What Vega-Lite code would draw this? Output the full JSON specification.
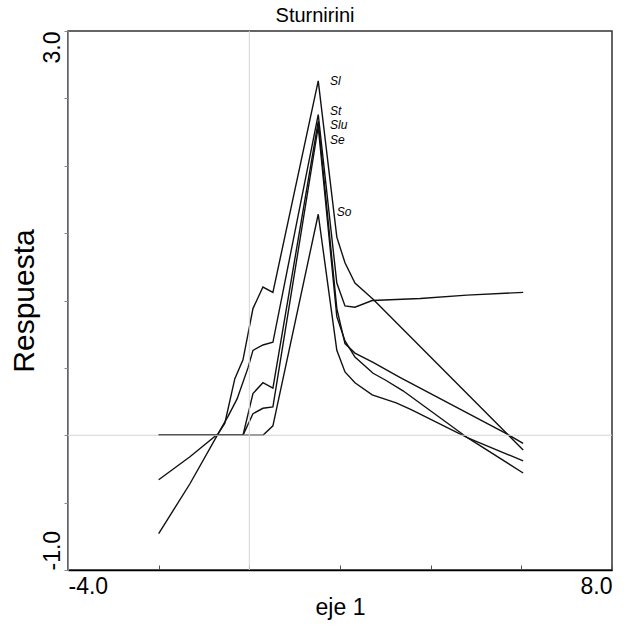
{
  "$schema": "https://vega.github.io/schema/vega-lite/v6.json",
  "width": 544,
  "height": 539,
  "autosize": {"type": "none"},
  "padding": {"left": 68, "top": 31, "right": 16, "bottom": 59},
  "background": "white",
  "title": {"text": "Sturnirini", "fontSize": 20, "font": "Liberation Sans", "fontWeight": "normal", "color": "#000000", "anchor": "middle", "frame": "group", "dx": -25, "offset": 5},
  "config": {"view": {"stroke": "#333333", "strokeWidth": 1.5}},
  "datasets": {
    "curves": [
      {"s": "Sl", "x": -2.0, "y": -0.73}, {"s": "Sl", "x": -1.31, "y": -0.36}, {"s": "Sl", "x": -0.69, "y": 0.01}, {"s": "Sl", "x": -0.54, "y": 0.09}, {"s": "Sl", "x": -0.32, "y": 0.42}, {"s": "Sl", "x": -0.14, "y": 0.56}, {"s": "Sl", "x": 0.08, "y": 0.94}, {"s": "Sl", "x": 0.30, "y": 1.10}, {"s": "Sl", "x": 0.52, "y": 1.06}, {"s": "Sl", "x": 1.52, "y": 2.63}, {"s": "Sl", "x": 1.93, "y": 1.47}, {"s": "Sl", "x": 2.11, "y": 1.28}, {"s": "Sl", "x": 2.33, "y": 1.13}, {"s": "Sl", "x": 2.73, "y": 1.01}, {"s": "Sl", "x": 6.04, "y": -0.11},
      {"s": "St", "x": -2.0, "y": -0.33}, {"s": "St", "x": -1.31, "y": -0.16}, {"s": "St", "x": -0.69, "y": 0.01}, {"s": "St", "x": -0.47, "y": 0.14}, {"s": "St", "x": -0.27, "y": 0.27}, {"s": "St", "x": -0.03, "y": 0.50}, {"s": "St", "x": 0.08, "y": 0.63}, {"s": "St", "x": 0.30, "y": 0.67}, {"s": "St", "x": 0.52, "y": 0.69}, {"s": "St", "x": 1.52, "y": 2.38}, {"s": "St", "x": 1.93, "y": 1.13}, {"s": "St", "x": 2.11, "y": 0.96}, {"s": "St", "x": 2.33, "y": 0.95}, {"s": "St", "x": 2.71, "y": 1.00}, {"s": "St", "x": 3.77, "y": 1.015}, {"s": "St", "x": 4.8, "y": 1.04}, {"s": "St", "x": 6.04, "y": 1.06},
      {"s": "Slu", "x": -2.0, "y": 0.0}, {"s": "Slu", "x": -0.14, "y": 0.0}, {"s": "Slu", "x": 0.08, "y": 0.31}, {"s": "Slu", "x": 0.30, "y": 0.39}, {"s": "Slu", "x": 0.52, "y": 0.35}, {"s": "Slu", "x": 1.52, "y": 2.33}, {"s": "Slu", "x": 1.93, "y": 0.94}, {"s": "Slu", "x": 2.11, "y": 0.68}, {"s": "Slu", "x": 2.33, "y": 0.61}, {"s": "Slu", "x": 2.73, "y": 0.54}, {"s": "Slu", "x": 3.32, "y": 0.43}, {"s": "Slu", "x": 5.68, "y": 0.01}, {"s": "Slu", "x": 6.04, "y": -0.06},
      {"s": "Se", "x": -2.0, "y": 0.0}, {"s": "Se", "x": -0.14, "y": 0.0}, {"s": "Se", "x": 0.08, "y": 0.16}, {"s": "Se", "x": 0.30, "y": 0.20}, {"s": "Se", "x": 0.52, "y": 0.21}, {"s": "Se", "x": 1.52, "y": 2.29}, {"s": "Se", "x": 1.93, "y": 0.88}, {"s": "Se", "x": 2.11, "y": 0.70}, {"s": "Se", "x": 2.33, "y": 0.58}, {"s": "Se", "x": 2.73, "y": 0.46}, {"s": "Se", "x": 3.0, "y": 0.41}, {"s": "Se", "x": 3.39, "y": 0.33}, {"s": "Se", "x": 4.82, "y": -0.02}, {"s": "Se", "x": 6.04, "y": -0.28},
      {"s": "So", "x": -2.0, "y": 0.0}, {"s": "So", "x": 0.30, "y": 0.0}, {"s": "So", "x": 0.52, "y": 0.07}, {"s": "So", "x": 1.52, "y": 1.64}, {"s": "So", "x": 1.93, "y": 0.63}, {"s": "So", "x": 2.11, "y": 0.47}, {"s": "So", "x": 2.33, "y": 0.39}, {"s": "So", "x": 2.71, "y": 0.30}, {"s": "So", "x": 3.24, "y": 0.24}, {"s": "So", "x": 3.57, "y": 0.19}, {"s": "So", "x": 4.82, "y": -0.02}, {"s": "So", "x": 6.04, "y": -0.19}
    ],
    "ref": [{"v": 0}],
    "labels": [
      {"label": "Sl", "x": 1.78, "y": 2.63},
      {"label": "St", "x": 1.78, "y": 2.41},
      {"label": "Slu", "x": 1.78, "y": 2.30},
      {"label": "Se", "x": 1.78, "y": 2.19},
      {"label": "So", "x": 1.93, "y": 1.66}
    ]
  },
  "layer": [
    {
      "data": {"name": "curves"},
      "mark": {"type": "line", "color": "#111111", "strokeWidth": 1.4},
      "encoding": {
        "x": {"field": "x", "type": "quantitative", "title": "eje 1", "scale": {"domain": [-4, 8], "nice": false, "zero": false},
          "axis": {"values": [-4, -2, 0, 2, 4, 6, 8], "labelExpr": "datum.value == -4 ? '-4.0' : (datum.value == 8 ? '8.0' : '')", "labelFlush": true, "labelFont": "Liberation Sans", "labelFontSize": 23, "labelColor": "#000000", "tickSize": -5, "tickColor": "#555555", "domainColor": "#000000", "domainWidth": 1.5, "labelPadding": 10, "grid": false, "titleFont": "Liberation Sans", "titleFontSize": 23, "titleFontWeight": "normal", "titleColor": "#000000", "titlePadding": -2}},
        "y": {"field": "y", "type": "quantitative", "title": "Respuesta", "scale": {"domain": [-1, 3], "nice": false, "zero": false},
          "axis": {"values": [-1, -0.5, 0, 0.5, 1, 1.5, 2, 2.5, 3], "labelExpr": "datum.value == 3 ? '3.0' : (datum.value == -1 ? '-1.0' : '')", "labelAngle": 270, "labelAlign": {"condition": {"test": "datum.value == 3", "value": "right"}, "value": "left"}, "labelBaseline": "bottom", "labelFont": "Liberation Sans", "labelFontSize": 23, "labelColor": "#000000", "tickSize": 4, "tickColor": "#888888", "domainColor": "#8a8aa0", "domainWidth": 1, "labelPadding": 0, "grid": false, "titleFont": "Liberation Sans", "titleFontSize": 30, "titleFontWeight": "normal", "titleColor": "#000000", "titlePadding": 2}},
        "detail": {"field": "s", "type": "nominal"}
      }
    },
    {
      "data": {"name": "ref"},
      "mark": {"type": "rule", "color": "#d4d4d4", "strokeWidth": 1},
      "encoding": {"x": {"field": "v", "type": "quantitative"}}
    },
    {
      "data": {"name": "ref"},
      "mark": {"type": "rule", "color": "#d4d4d4", "strokeWidth": 1},
      "encoding": {"y": {"field": "v", "type": "quantitative"}}
    },
    {
      "data": {"name": "labels"},
      "mark": {"type": "text", "align": "left", "baseline": "middle", "fontStyle": "italic", "fontSize": 12, "font": "Liberation Sans", "color": "#000000"},
      "encoding": {
        "x": {"field": "x", "type": "quantitative"},
        "y": {"field": "y", "type": "quantitative"},
        "text": {"field": "label", "type": "nominal"}
      }
    }
  ]
}
